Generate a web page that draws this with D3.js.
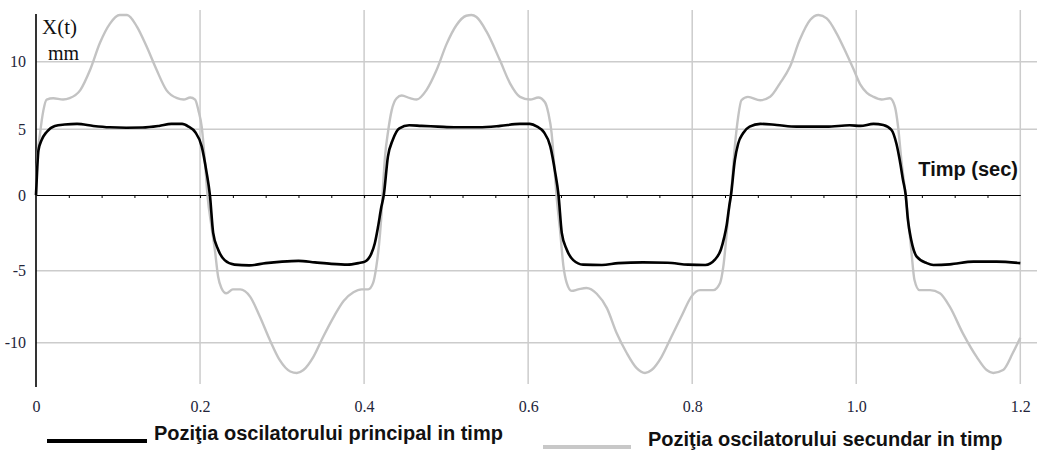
<!DOCTYPE html>
<html>
<head>
<meta charset="utf-8">
<script src="https://cdn.jsdelivr.net/npm/d3@7"></script>
<style>
  html, body { margin: 0; padding: 0; background: #fff; }
  svg { display: block; }
</style>
</head>
<body>
<script>
// tick labels
const xTicks = [0, 0.2, 0.4, 0.6, 0.8, 1.0, 1.2];
const xTickLabels = ['0', '0.2', '0.4', '0.6', '0.8', '1.0', '1.2'];
const minorTicks = [0.04, 0.08, 0.12, 0.16, 0.2, 0.24, 0.28, 0.32, 0.36, 0.4, 0.44, 0.48, 0.52, 0.56, 0.6,
  0.64, 0.68, 0.72, 0.76, 0.8, 0.84, 0.88, 0.92, 0.96, 1.0, 1.04, 1.08, 1.12, 1.16];
const yTicks = [10, 5, 0, -5, -10];
const yTickLabels = ['10', '5', '0', '-5', '-10'];
const gridY = [10, 5, -5, -10];

// [timp (sec), X(t) mm]
const principal = [
  [0, 0], [0.0016, 2.15], [0.003, 3.4], [0.007, 4.2], [0.013, 4.8], [0.023, 5.25], [0.035, 5.35],
  [0.05, 5.4], [0.07, 5.25], [0.09, 5.15], [0.11, 5.12], [0.13, 5.13], [0.15, 5.25], [0.165, 5.4],
  [0.178, 5.4], [0.186, 5.2], [0.194, 4.8], [0.202, 3.7], [0.208, 1.7], [0.212, 0], [0.216, -2.5],
  [0.222, -3.6], [0.230, -4.3], [0.242, -4.6], [0.26, -4.65], [0.28, -4.5], [0.30, -4.4], [0.32, -4.35],
  [0.34, -4.45], [0.36, -4.55], [0.38, -4.6], [0.393, -4.5], [0.401, -4.4], [0.409, -3.85], [0.413, -3.2],
  [0.417, -2.1], [0.421, -0.8], [0.424, 0], [0.429, 2.9], [0.435, 4.2], [0.443, 5.07], [0.455, 5.3],
  [0.47, 5.25], [0.49, 5.2], [0.51, 5.15], [0.54, 5.15], [0.566, 5.25], [0.59, 5.4], [0.602, 5.4],
  [0.611, 5.2], [0.619, 4.8], [0.627, 3.7], [0.633, 1.7], [0.637, 0], [0.641, -2.5], [0.647, -3.6],
  [0.655, -4.3], [0.667, -4.6], [0.69, -4.62], [0.71, -4.5], [0.74, -4.45], [0.77, -4.47], [0.795, -4.6],
  [0.816, -4.62], [0.828, -4.25], [0.835, -3.6], [0.839, -2.8], [0.842, -2.0], [0.845, -0.8], [0.8473, 0],
  [0.852, 2.66], [0.856, 3.9], [0.862, 4.7], [0.870, 5.2], [0.883, 5.4], [0.903, 5.32], [0.927, 5.2],
  [0.964, 5.2], [0.992, 5.3], [1.005, 5.25], [1.021, 5.4], [1.033, 5.32], [1.043, 4.95], [1.049, 3.9],
  [1.053, 2.66], [1.057, 1.14], [1.0603, 0], [1.063, -1.65], [1.067, -2.97], [1.0737, -4.07], [1.086, -4.5],
  [1.094, -4.62], [1.114, -4.58], [1.143, -4.4], [1.171, -4.4], [1.2, -4.5]
];

const secundar = [
  [0, 0], [0.0016, 2.66], [0.005, 4.7], [0.009, 6.4], [0.013, 7.2], [0.021, 7.3], [0.033, 7.2], [0.041, 7.3],
  [0.054, 7.9], [0.066, 9.4], [0.078, 11.4], [0.090, 12.8], [0.102, 13.45], [0.111, 13.45], [0.123, 12.6],
  [0.135, 11.1], [0.147, 9.4], [0.159, 7.9], [0.172, 7.3], [0.180, 7.2], [0.188, 7.35], [0.194, 7.2],
  [0.198, 6.4], [0.202, 5.2], [0.206, 2.5], [0.209, 0], [0.214, -2.1], [0.218, -3.6], [0.222, -5.4],
  [0.226, -6.2], [0.232, -6.57], [0.240, -6.3], [0.249, -6.3], [0.261, -6.8], [0.273, -8.2], [0.285, -9.8],
  [0.297, -11.2], [0.310, -12.0], [0.318, -12.1], [0.326, -11.9], [0.338, -11.0], [0.350, -9.6], [0.363, -8.2],
  [0.375, -7.1], [0.387, -6.5], [0.397, -6.3], [0.405, -6.3], [0.411, -5.85], [0.415, -4.7], [0.4195, -2.5],
  [0.4215, -1.0], [0.4225, 0], [0.4255, 2.9], [0.4295, 4.95], [0.4336, 6.4], [0.4397, 7.3], [0.4458, 7.5],
  [0.456, 7.3], [0.464, 7.2], [0.476, 7.9], [0.4885, 9.4], [0.5005, 11.3], [0.5125, 12.7], [0.5245, 13.4],
  [0.531, 13.45], [0.537, 13.3], [0.5495, 12.2], [0.5656, 10.1], [0.5779, 8.4], [0.5901, 7.4], [0.6023, 7.2],
  [0.6124, 7.35], [0.6205, 7.0], [0.6246, 6.2], [0.6286, 4.7], [0.6315, 2.5], [0.6345, 0], [0.639, -2.4],
  [0.643, -4.7], [0.647, -5.85], [0.653, -6.4], [0.661, -6.3], [0.671, -6.2], [0.6836, -6.6], [0.696, -7.6],
  [0.708, -9.35], [0.720, -10.7], [0.732, -11.75], [0.7425, -12.1], [0.7505, -11.9], [0.7625, -11.0],
  [0.7745, -9.6], [0.7875, -8.1], [0.799, -6.8], [0.8095, -6.35], [0.8257, -6.35], [0.834, -5.85],
  [0.838, -4.7], [0.844, -1.4], [0.848, 0.6], [0.852, 3.7], [0.856, 5.9], [0.860, 7.15], [0.868, 7.4],
  [0.883, 7.15], [0.895, 7.4], [0.907, 8.4], [0.919, 9.6], [0.931, 11.6], [0.944, 13.1], [0.954, 13.45],
  [0.964, 13.2], [0.976, 12.1], [0.988, 10.6], [0.997, 9.4], [1.005, 8.3], [1.013, 7.7], [1.021, 7.4],
  [1.031, 7.2], [1.041, 7.3], [1.047, 6.7], [1.051, 5.2], [1.055, 2.66], [1.059, 0.6], [1.063, -1.43],
  [1.067, -3.6], [1.071, -5.65], [1.077, -6.35], [1.090, -6.35], [1.102, -6.57], [1.114, -7.5], [1.130, -9.35],
  [1.147, -11.0], [1.159, -11.9], [1.167, -12.1], [1.179, -11.9], [1.191, -10.7], [1.2, -9.65]
];

const legendLabels = ['Poziţia oscilatorului principal in timp', 'Poziţia oscilatorului secundar in timp'];

const width = 1037, height = 457;
const serif = '"Liberation Serif", "Times New Roman", serif';
const sans = '"Liberation Sans", Arial, sans-serif';

const svg = d3.select('body')
  .append('svg')
  .attr('width', width)
  .attr('height', height);

const x = d3.scaleLinear().domain([0, 1.2]).range([36, 1020.3]);
// the original plot's vertical spacing is not even, so the scale is piecewise
const y = d3.scaleLinear().domain([-10, -5, 0, 5, 10]).range([342.7, 270.7, 195, 129.3, 61.7]);

// grid
svg.append('g')
  .selectAll('line')
  .data(gridY)
  .join('line')
  .attr('x1', x(0)).attr('x2', width)
  .attr('y1', d => y(d)).attr('y2', d => y(d))
  .attr('stroke', '#cccccc')
  .attr('stroke-width', 1.5);

svg.append('g')
  .selectAll('line')
  .data(xTicks.slice(1))
  .join('line')
  .attr('x1', d => x(d)).attr('x2', d => x(d))
  .attr('y1', 10).attr('y2', 384)
  .attr('stroke', '#cccccc')
  .attr('stroke-width', 1.5);

// zero line with small ticks
svg.append('g')
  .attr('transform', `translate(0,${y(0)})`)
  .call(d3.axisBottom(x).tickValues(minorTicks).tickSize(3).tickSizeOuter(0).tickFormat(''))
  .call(g => g.selectAll('path, line').attr('stroke', '#000'));

// y axis line
svg.append('line')
  .attr('x1', x(0)).attr('x2', x(0))
  .attr('y1', 14).attr('y2', 387)
  .attr('stroke', '#000')
  .attr('stroke-width', 1.6);

// tick labels
svg.append('g')
  .attr('transform', `translate(0,398)`)
  .call(d3.axisBottom(x).tickValues(xTicks).tickSize(0).tickFormat((d, i) => xTickLabels[i]))
  .call(g => g.select('.domain').remove())
  .call(g => g.selectAll('text')
    .attr('font-family', serif).attr('font-size', 16).attr('fill', '#23253a'));

svg.append('g')
  .attr('transform', `translate(${x(0) - 8},0)`)
  .call(d3.axisLeft(y).tickValues(yTicks).tickSize(0).tickPadding(2).tickFormat((d, i) => yTickLabels[i]))
  .call(g => g.select('.domain').remove())
  .call(g => g.selectAll('text')
    .attr('font-family', serif).attr('font-size', 16).attr('fill', '#23253a'));

// curves
const line = d3.line()
  .x(d => x(d[0]))
  .y(d => y(d[1]))
  .curve(d3.curveMonotoneX);

svg.append('path')
  .datum(secundar)
  .attr('fill', 'none')
  .attr('stroke', '#c3c3c3')
  .attr('stroke-width', 2.4)
  .attr('d', line);

svg.append('path')
  .datum(principal)
  .attr('fill', 'none')
  .attr('stroke', '#000')
  .attr('stroke-width', 2.6)
  .attr('d', line);

// axis titles
svg.append('text')
  .attr('x', 42).attr('y', 34)
  .attr('font-family', serif)
  .attr('font-size', 21)
  .attr('fill', '#111')
  .text('X(t)');

svg.append('text')
  .attr('x', 48).attr('y', 60)
  .attr('font-family', serif)
  .attr('font-size', 20)
  .attr('fill', '#111')
  .text('mm');

svg.append('text')
  .attr('x', 1018).attr('y', 176)
  .attr('text-anchor', 'end')
  .attr('font-family', sans)
  .attr('font-weight', 'bold')
  .attr('font-size', 20)
  .attr('fill', '#111')
  .text('Timp (sec)');

// legend
const legend = [
  {x1: 47, x2: 147, ly: 441, tx: 154, ty: 440, color: '#000', label: legendLabels[0]},
  {x1: 543, x2: 631, ly: 447, tx: 648, ty: 446, color: '#c8c8c8', label: legendLabels[1]}
];

const lg = svg.append('g')
  .selectAll('g')
  .data(legend)
  .join('g');

lg.append('line')
  .attr('x1', d => d.x1).attr('x2', d => d.x2)
  .attr('y1', d => d.ly).attr('y2', d => d.ly)
  .attr('stroke', d => d.color)
  .attr('stroke-width', 4);

lg.append('text')
  .attr('x', d => d.tx).attr('y', d => d.ty)
  .attr('font-family', sans)
  .attr('font-weight', 'bold')
  .attr('font-size', 20)
  .attr('fill', '#111')
  .text(d => d.label);
</script>
</body>
</html>
